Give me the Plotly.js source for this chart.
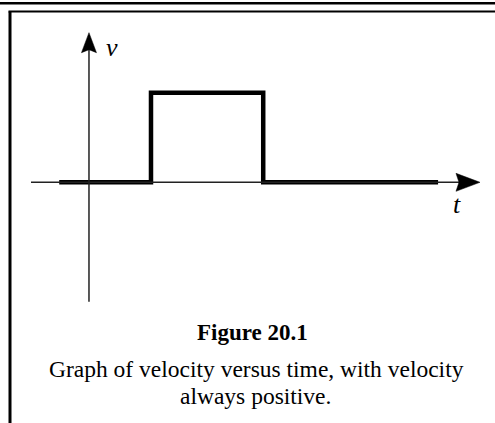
<!DOCTYPE html>
<html>
<head>
<meta charset="utf-8">
<script src="https://cdn.plot.ly/plotly-3.0.1.min.js"></script>
<style>
  html, body { margin: 0; padding: 0; background: #ffffff; }
  #chart { width: 495px; height: 423px; }
</style>
</head>
<body>
<div id="chart"></div>
<script>
// ---- data ----
const time = [-0.48, 1.0, 1.0, 2.81, 2.81, 5.63];
const velocity = [0, 0, 1, 1, 0, 0];

const axisLabels = { x: 't', y: 'v' };
const figureTitle = 'Figure 20.1';
const captionLine1 = 'Graph of velocity versus time, with velocity';
const captionLine2 = 'always positive.';

// axis extents (data units)
const xAxisStart = -0.935, xAxisTip = 6.306;
const yAxisStart = -1.333, yAxisTip = 1.67;

const serif = '"Liberation Serif", "Times New Roman", Times, serif';

const trace = {
  x: time,
  y: velocity,
  type: 'scatter',
  mode: 'lines',
  line: { color: '#000000', width: 4.5 },
  hoverinfo: 'skip',
  showlegend: false
};

const shapes = [
  // frame: top double rule + left border
  { type: 'line', xref: 'paper', yref: 'paper', x0: 0, x1: 1, y0: 1 - 3.2 / 423, y1: 1 - 3.2 / 423,
    line: { color: '#000', width: 2.6 } },
  { type: 'line', xref: 'paper', yref: 'paper', x0: 8.5 / 495, x1: 1, y0: 1 - 11.5 / 423, y1: 1 - 11.5 / 423,
    line: { color: '#000', width: 2 } },
  { type: 'line', xref: 'paper', yref: 'paper', x0: 10 / 495, x1: 10 / 495, y0: 0, y1: 1 - 11.5 / 423,
    line: { color: '#000', width: 3 } },
  // x axis line
  { type: 'line', xref: 'x', yref: 'y', x0: xAxisStart, x1: xAxisTip - 0.3, y0: 0, y1: 0,
    line: { color: '#222', width: 1.5 } },
  // y axis line
  { type: 'line', xref: 'x', yref: 'y', x0: 0, x1: 0, y0: yAxisStart, y1: yAxisTip - 0.15,
    line: { color: '#222', width: 1.5 } },
  // arrowheads
  { type: 'path', xref: 'x', yref: 'y', xsizemode: 'pixel', ysizemode: 'pixel',
    xanchor: xAxisTip, yanchor: 0,
    path: 'M0,0L-24,-9L-21,0L-24,9Z', fillcolor: '#000', line: { color: '#000', width: 0.5 } },
  { type: 'path', xref: 'x', yref: 'y', xsizemode: 'pixel', ysizemode: 'pixel',
    xanchor: 0, yanchor: yAxisTip,
    path: 'M0,0L-7.5,-20L0,-17L7.5,-20Z', fillcolor: '#000', line: { color: '#000', width: 0.5 } }
];

const annotations = [
  { x: 0.37, y: 1.5, xref: 'x', yref: 'y', text: '<i>' + axisLabels.y + '</i>', showarrow: false,
    font: { family: serif, size: 26, color: '#000' } },
  { x: 5.93, y: -0.25, xref: 'x', yref: 'y', text: '<i>' + axisLabels.x + '</i>', showarrow: false,
    font: { family: serif, size: 26, color: '#000' } },
  { x: 253 / 495, y: 1 - 332.5 / 423, xref: 'paper', yref: 'paper', text: '<b>' + figureTitle + '</b>',
    showarrow: false, yanchor: 'middle', font: { family: serif, size: 23, color: '#000' } },
  { x: 256 / 495, y: 1 - 369 / 423, xref: 'paper', yref: 'paper', text: captionLine1,
    showarrow: false, yanchor: 'middle', font: { family: serif, size: 23.5, color: '#000' } },
  { x: 255 / 495, y: 1 - 396 / 423, xref: 'paper', yref: 'paper', text: captionLine2,
    showarrow: false, yanchor: 'middle', font: { family: serif, size: 23.5, color: '#000' } }
];

const layout = {
  width: 495,
  height: 423,
  margin: { l: 0, r: 0, t: 0, b: 0, pad: 0 },
  paper_bgcolor: '#ffffff',
  plot_bgcolor: '#ffffff',
  xaxis: { range: [-1.435, 6.548], visible: false, fixedrange: true },
  yaxis: { range: [-2.686, 2.0346], visible: false, fixedrange: true },
  shapes: shapes,
  annotations: annotations,
  showlegend: false
};

Plotly.newPlot('chart', [trace], layout, { displayModeBar: false, staticPlot: true });
</script>
</body>
</html>
